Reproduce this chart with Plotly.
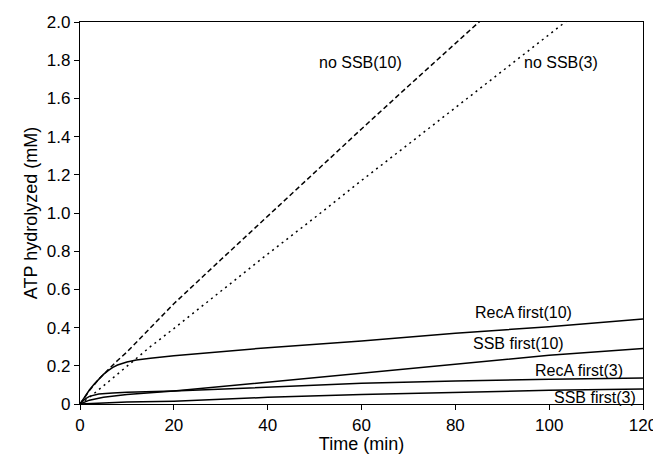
import plotly.graph_objects as go

# Time points (min) and ATP hydrolyzed (mM) for each condition
t_noSSB10 = [0, 1, 2, 4, 6, 8, 10, 15, 20, 30, 40, 50, 60, 70, 80, 90]
y_noSSB10 = [0, 0.036, 0.07, 0.13, 0.18, 0.228, 0.272, 0.40, 0.525, 0.755, 0.985, 1.215, 1.44, 1.665, 1.89, 2.11]

t_noSSB3 = [0, 2, 5, 10, 15, 20, 30, 40, 50, 60, 70, 80, 90, 100, 105]
y_noSSB3 = [0, 0.035, 0.095, 0.2, 0.3, 0.395, 0.59, 0.785, 0.975, 1.17, 1.36, 1.55, 1.74, 1.93, 2.03]

t_recA10 = [0, 1, 2, 3, 4, 5, 6, 7, 8, 9, 10, 12, 15, 20, 40, 60, 80, 100, 120]
y_recA10 = [0, 0.038, 0.073, 0.103, 0.132, 0.155, 0.175, 0.192, 0.204, 0.213, 0.22, 0.23, 0.24, 0.252, 0.295, 0.33, 0.37, 0.405, 0.445]

t_ssb10 = [0, 2, 5, 10, 20, 40, 60, 80, 100, 120]
y_ssb10 = [0, 0.02, 0.035, 0.05, 0.068, 0.115, 0.165, 0.21, 0.255, 0.29]

t_recA3 = [0, 1, 2, 4, 7, 10, 20, 40, 60, 80, 100, 120]
y_recA3 = [0, 0.025, 0.04, 0.052, 0.058, 0.062, 0.068, 0.088, 0.108, 0.12, 0.13, 0.136]

t_ssb3 = [0, 5, 10, 20, 40, 60, 80, 100, 120]
y_ssb3 = [0, 0.005, 0.01, 0.015, 0.035, 0.05, 0.062, 0.072, 0.079]

labels = ["no SSB(10)", "no SSB(3)", "RecA first(10)", "SSB first(10)", "RecA first(3)", "SSB first(3)"]
label_x = [59.7, 102.5, 94.5, 93.5, 106.4, 109.7]
label_y = [1.79, 1.79, 0.478, 0.315, 0.175, 0.035]

x_ticks = [0, 20, 40, 60, 80, 100, 120]
y_ticks = [0, 0.2, 0.4, 0.6, 0.8, 1.0, 1.2, 1.4, 1.6, 1.8, 2.0]
y_ticktext = ["0", "0.2", "0.4", "0.6", "0.8", "1.0", "1.2", "1.4", "1.6", "1.8", "2.0"]

FONT = "Liberation Sans, Arial, Helvetica, sans-serif"

series = [
    (t_noSSB10, y_noSSB10, "5px,3px"),
    (t_noSSB3, y_noSSB3, "2px,4px"),
    (t_recA10, y_recA10, "solid"),
    (t_ssb10, y_ssb10, "solid"),
    (t_recA3, y_recA3, "solid"),
    (t_ssb3, y_ssb3, "solid"),
]

fig = go.Figure()
for (tx, ty, dash), name in zip(series, labels):
    fig.add_trace(go.Scatter(x=tx, y=ty, mode="lines", name=name,
                             line=dict(color="black", width=1.5, dash=dash)))

for lx, ly, txt in zip(label_x, label_y, labels):
    fig.add_annotation(x=lx, y=ly, text=txt, showarrow=False,
                       font=dict(size=16, color="black", family=FONT))

axis_common = dict(showline=True, linecolor="black", linewidth=1.2, mirror=True,
                   ticks="outside", ticklen=5, tickcolor="black", tickwidth=1.2,
                   showgrid=False, zeroline=False, automargin=False,
                   tickfont=dict(size=17, color="black", family=FONT))

# The page body has an 8px default margin, so the figure is sized to fit the 661x454 window.
fig.update_layout(
    width=653, height=446,
    margin=dict(l=72, r=18, t=14, b=50),
    plot_bgcolor="white", paper_bgcolor="white",
    showlegend=False,
    font=dict(family=FONT, size=17, color="black"),
    xaxis=dict(range=[0, 120], tickvals=x_ticks,
               title=dict(text="Time (min)", standoff=2, font=dict(size=18)), **axis_common),
    yaxis=dict(range=[0, 2.0], tickvals=y_ticks, ticktext=y_ticktext,
               title=dict(text="ATP hydrolyzed (mM)", standoff=4, font=dict(size=18)), **axis_common),
)

fig.write_html("out.html")
